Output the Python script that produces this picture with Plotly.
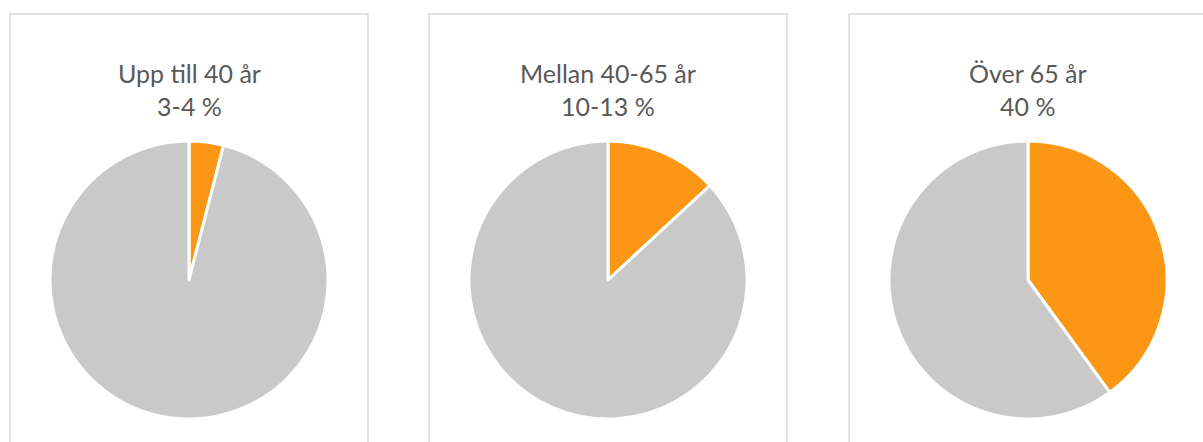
import plotly.graph_objects as go

titles = ["Upp till 40 år<br>3-4 %", "Mellan 40-65 år<br>10-13 %", "Över 65 år<br>40 %"]
labels = ["Andel", "Övriga"]
shares = [4.0, 13.1, 40.0]
colors = ["#FB9714", "#C9C9C9"]

W, H = 1203, 442
panel_left = [10, 429, 849]
panel_w = 358
fig = go.Figure()
for i, (t, s) in enumerate(zip(titles, shares)):
    cx = panel_left[i] + 179
    r = 139
    fig.add_trace(go.Pie(
        labels=labels, values=[s, 100 - s], sort=False, direction="clockwise",
        rotation=0, textinfo="none", hoverinfo="label+percent",
        marker=dict(colors=colors, line=dict(color="white", width=3)),
        domain=dict(x=[(cx - r) / W, (cx + r) / W], y=[1 - (280 + r) / H, 1 - (280 - r) / H]),
        showlegend=False,
    ))
    fig.add_shape(type="rect", xref="paper", yref="paper",
                  x0=panel_left[i] / W, x1=(panel_left[i] + panel_w) / W,
                  y0=-0.2, y1=1 - 14 / H,
                  line=dict(color="#D9D9D9", width=1.5), layer="below")
    fig.add_annotation(text=t, x=cx / W, y=1 - 90 / H, xref="paper", yref="paper",
                       xanchor="center", yanchor="middle",
                       showarrow=False, font=dict(family="Lato, Open Sans", size=25, color="#595959"),
                       align="center")

fig.update_layout(width=W, height=H, margin=dict(l=0, r=0, t=0, b=0),
                  paper_bgcolor="white", plot_bgcolor="white")
fig.write_html("out.html", config={"displayModeBar": False},
               post_script="document.body.style.margin='0';")
